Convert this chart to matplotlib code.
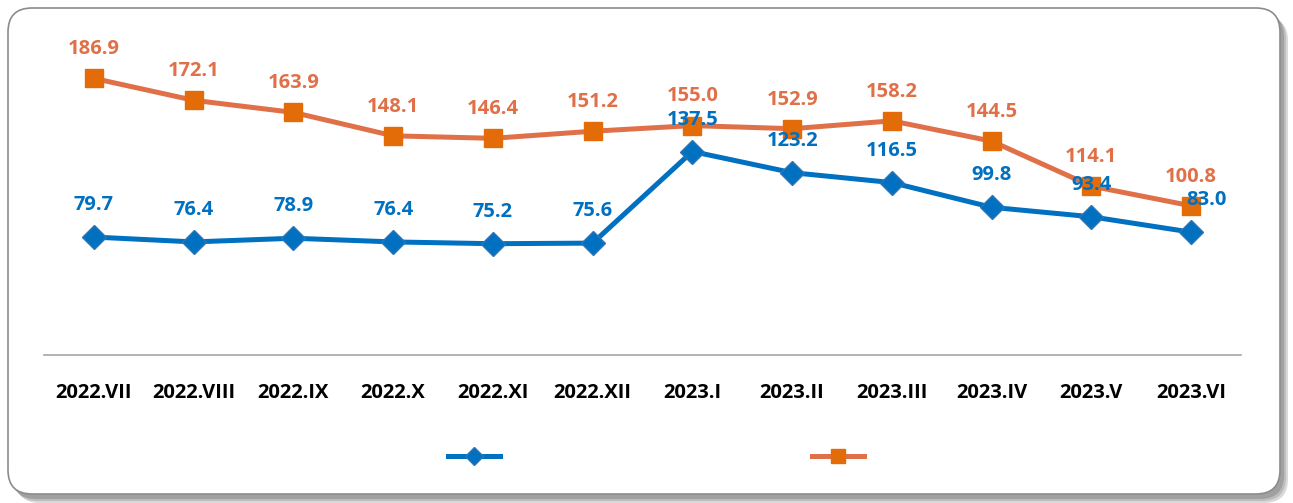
"""
Two monthly series (2022.VII - 2023.VI) with value labels, drawn in a rounded frame.
"""

import numpy as np
import matplotlib.pyplot as plt
from matplotlib.patches import FancyBboxPatch
from matplotlib.transforms import IdentityTransform

months = [
    "2022.VII", "2022.VIII", "2022.IX", "2022.X", "2022.XI", "2022.XII",
    "2023.I", "2023.II", "2023.III", "2023.IV", "2023.V", "2023.VI",
]
blue_values = [79.7, 76.4, 78.9, 76.4, 75.2, 75.6, 137.5, 123.2, 116.5, 99.8, 93.4, 83.0]
orange_values = [186.9, 172.1, 163.9, 148.1, 146.4, 151.2, 155.0, 152.9, 158.2, 144.5, 114.1, 100.8]

blue = "#0070C0"
orange_line = "#E07048"
orange_marker = "#E36C09"

plt.rcParams["font.family"] = ["Open Sans", "DejaVu Sans"]

W, H = 1293, 503
fig = plt.figure(figsize=(W / 100, H / 100), dpi=100)

# rounded frame (pixel coordinates) with a soft shadow on the right and bottom
for off, col in [(6, "#d9d9d9"), (4, "#bdbdbd"), (2, "#a0a0a0")]:
    fig.patches.append(
        FancyBboxPatch(
            (10 + off, 6 - off), 1272, 486,
            boxstyle="round,pad=0,rounding_size=24",
            transform=IdentityTransform(), facecolor=col, edgecolor="none",
            zorder=-10,
        )
    )
fig.patches.append(
    FancyBboxPatch(
        (8, 9), 1272, 486,
        boxstyle="round,pad=0,rounding_size=24",
        transform=IdentityTransform(), facecolor="white", edgecolor="#8c8c8c",
        linewidth=1.2, zorder=-9,
    )
)

ax = fig.add_axes([44 / W, 148 / H, 1197 / W, 296 / H])
ax.patch.set_alpha(0)
x = np.arange(len(months))

(l_blue,) = ax.plot(
    x, blue_values, color=blue, lw=3.6, marker="D", ms=12,
    markerfacecolor=blue, markeredgecolor="#2E75B6", markeredgewidth=1, zorder=3,
)
(l_orange,) = ax.plot(
    x, orange_values, color=orange_line, lw=3.6, marker="s", ms=12.5,
    markerfacecolor=orange_marker, markeredgecolor=orange_marker, zorder=2,
)

for xi, v in zip(x, orange_values):
    ax.annotate(f"{v:.1f}", (xi, v), xytext=(0, 21), textcoords="offset points",
                ha="center", va="center", color=orange_line, fontsize=14.5,
                fontweight="bold", zorder=4)
for i, (xi, v) in enumerate(zip(x, blue_values)):
    dx = 11 if i == len(x) - 1 else 0
    ax.annotate(f"{v:.1f}", (xi, v), xytext=(dx, 23), textcoords="offset points",
                ha="center", va="center", color=blue, fontsize=14.5,
                fontweight="bold", zorder=5)

ax.set_xlim(-0.5, len(months) - 0.5)
ax.set_ylim(0, 200)
ax.set_xticks(x)
ax.set_xticklabels(months, fontsize=14.5, fontweight="bold")
ax.tick_params(axis="x", length=0, pad=20)
ax.set_yticks([])
for side in ["top", "right", "left"]:
    ax.spines[side].set_visible(False)
ax.spines["bottom"].set_color("#a6a6a6")
ax.spines["bottom"].set_linewidth(1.2)

fig.legend(
    [l_blue, l_orange], ["", ""], loc="center",
    bbox_to_anchor=(656 / W, 1 - 457 / H), ncol=2, frameon=False,
    fontsize=10, handlelength=3.7, handletextpad=0, columnspacing=22.5,
    markerscale=0.75,
)

fig.savefig("out.png", dpi=100)
